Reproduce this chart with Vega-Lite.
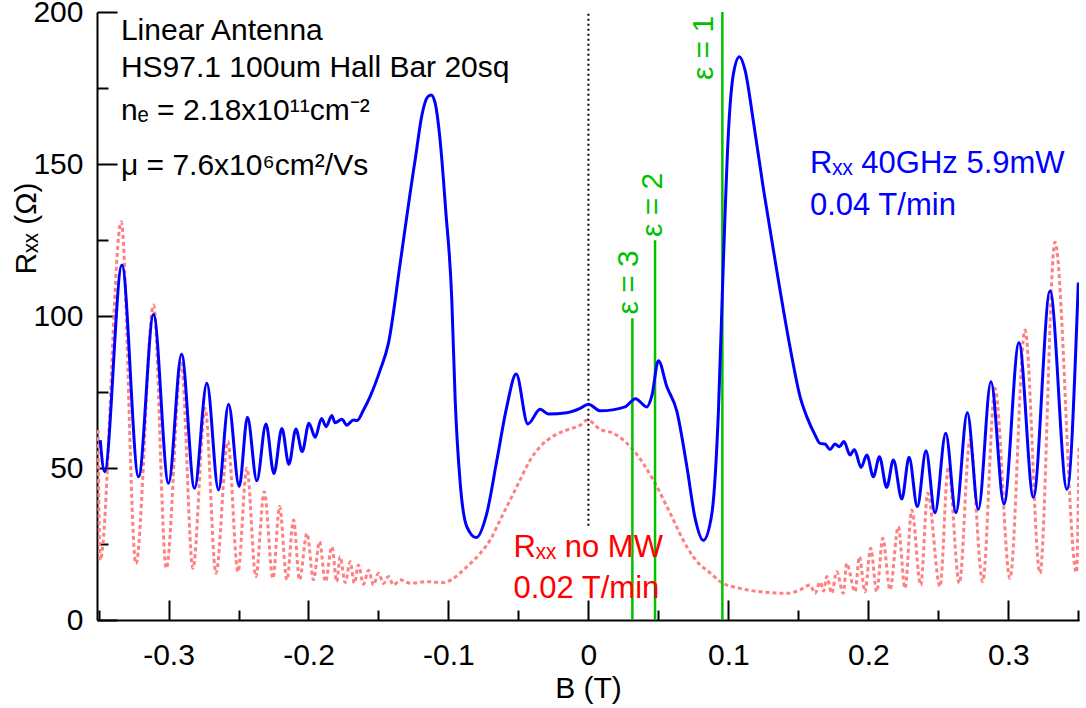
{
  "$schema": "https://vega.github.io/schema/vega-lite/v6.json",
  "width": 982,
  "height": 608,
  "autosize": {"type": "none"},
  "padding": {"left": 97, "top": 12, "right": 7, "bottom": 88},
  "background": "white",
  "config": {
    "view": {"stroke": null},
    "font": "Liberation Sans",
    "axis": {"labelFont": "Liberation Sans", "titleFont": "Liberation Sans", "grid": false, "domainColor": "black", "domainWidth": 2, "tickColor": "black", "tickWidth": 2, "labelColor": "black", "titleColor": "black", "titleFontWeight": "normal", "labelFontSize": 30, "titleFontSize": 30, "labelOverlap": false, "labelFlush": false}
  },
  "datasets": {
    "blue": [
      {"B": -0.3488, "R": 59.2}, {"B": -0.3457, "R": 48.8}, {"B": -0.3333, "R": 116.8}, {"B": -0.3214, "R": 47.1},
      {"B": -0.3107, "R": 100.5}, {"B": -0.3000, "R": 45.0}, {"B": -0.2907, "R": 87.4}, {"B": -0.2814, "R": 43.3},
      {"B": -0.2726, "R": 77.9}, {"B": -0.2643, "R": 42.8}, {"B": -0.2571, "R": 71.0}, {"B": -0.2495, "R": 43.9},
      {"B": -0.2436, "R": 66.7}, {"B": -0.2369, "R": 45.8}, {"B": -0.2304, "R": 64.5}, {"B": -0.2247, "R": 48.2},
      {"B": -0.2190, "R": 63.0}, {"B": -0.2140, "R": 51.2}, {"B": -0.2090, "R": 62.8}, {"B": -0.2045, "R": 55.4},
      {"B": -0.1997, "R": 64.7}, {"B": -0.1952, "R": 60.1}, {"B": -0.1907, "R": 66.3}, {"B": -0.1874, "R": 63.6},
      {"B": -0.1833, "R": 67.3}, {"B": -0.1810, "R": 64.9}, {"B": -0.1761, "R": 66.0}, {"B": -0.1726, "R": 64.1},
      {"B": -0.1679, "R": 65.8}, {"B": -0.1654, "R": 65.6}, {"B": -0.1607, "R": 69.1}, {"B": -0.1560, "R": 73.5},
      {"B": -0.1488, "R": 82.2}, {"B": -0.1429, "R": 91.0}, {"B": -0.1345, "R": 117.3}, {"B": -0.1274, "R": 140.4},
      {"B": -0.1236, "R": 152.0}, {"B": -0.1190, "R": 166.0}, {"B": -0.1150, "R": 172.0}, {"B": -0.1124, "R": 172.7},
      {"B": -0.1095, "R": 170.0}, {"B": -0.1060, "R": 158.0}, {"B": -0.1020, "R": 135.0}, {"B": -0.0976, "R": 105.3},
      {"B": -0.0952, "R": 72.4}, {"B": -0.0916, "R": 45.0}, {"B": -0.0869, "R": 30.7}, {"B": -0.0802, "R": 27.1},
      {"B": -0.0726, "R": 35.1}, {"B": -0.0654, "R": 52.6}, {"B": -0.0583, "R": 70.2}, {"B": -0.0516, "R": 80.9},
      {"B": -0.0433, "R": 64.5}, {"B": -0.0345, "R": 69.3}, {"B": -0.0286, "R": 67.8}, {"B": -0.0154, "R": 68.2},
      {"B": -0.0059, "R": 69.6}, {"B": 0.0, "R": 71.0}, {"B": 0.0084, "R": 68.8}, {"B": 0.0262, "R": 70.1},
      {"B": 0.0336, "R": 72.8}, {"B": 0.0417, "R": 70.1}, {"B": 0.0453, "R": 73.7}, {"B": 0.0500, "R": 85.3},
      {"B": 0.0560, "R": 76.8}, {"B": 0.0631, "R": 68.8}, {"B": 0.0703, "R": 50.6}, {"B": 0.0762, "R": 33.5},
      {"B": 0.0821, "R": 26.2}, {"B": 0.0881, "R": 34.7}, {"B": 0.0929, "R": 68.8}, {"B": 0.0964, "R": 117.6},
      {"B": 0.1000, "R": 160.2}, {"B": 0.1036, "R": 179.7}, {"B": 0.1079, "R": 185.3}, {"B": 0.1119, "R": 180.9},
      {"B": 0.1179, "R": 163.9}, {"B": 0.1250, "R": 141.9}, {"B": 0.1345, "R": 115.1}, {"B": 0.1441, "R": 89.6},
      {"B": 0.1512, "R": 73.5}, {"B": 0.1560, "R": 66.9}, {"B": 0.1619, "R": 60.9}, {"B": 0.1655, "R": 58.1},
      {"B": 0.1690, "R": 57.9}, {"B": 0.1726, "R": 56.1}, {"B": 0.1762, "R": 57.9}, {"B": 0.1793, "R": 57.0},
      {"B": 0.1826, "R": 58.7}, {"B": 0.1869, "R": 54.3}, {"B": 0.1900, "R": 56.1}, {"B": 0.1948, "R": 50.2},
      {"B": 0.1989, "R": 54.3}, {"B": 0.2036, "R": 47.1}, {"B": 0.2079, "R": 53.7}, {"B": 0.2131, "R": 43.6},
      {"B": 0.2179, "R": 52.6}, {"B": 0.2239, "R": 39.8}, {"B": 0.2291, "R": 53.5}, {"B": 0.2350, "R": 37.3},
      {"B": 0.2412, "R": 55.7}, {"B": 0.2476, "R": 35.3}, {"B": 0.2553, "R": 61.4}, {"B": 0.2626, "R": 35.3},
      {"B": 0.2707, "R": 68.2}, {"B": 0.2786, "R": 36.4}, {"B": 0.2876, "R": 78.4}, {"B": 0.2969, "R": 38.2},
      {"B": 0.3076, "R": 91.2}, {"B": 0.3179, "R": 40.4}, {"B": 0.3298, "R": 108.2}, {"B": 0.3419, "R": 43.0},
      {"B": 0.3500, "R": 111.0}
    ],
    "red": [
      {"B": -0.3504, "R": 62.5}, {"B": -0.3488, "R": 19.7}, {"B": -0.3338, "R": 131.0}, {"B": -0.3233, "R": 18.6},
      {"B": -0.3107, "R": 103.6}, {"B": -0.3016, "R": 17.0}, {"B": -0.2909, "R": 84.4}, {"B": -0.2826, "R": 17.0},
      {"B": -0.2738, "R": 69.6}, {"B": -0.2661, "R": 15.4}, {"B": -0.2576, "R": 58.7}, {"B": -0.2504, "R": 15.9},
      {"B": -0.2440, "R": 49.9}, {"B": -0.2376, "R": 14.3}, {"B": -0.2316, "R": 42.2}, {"B": -0.2254, "R": 13.7},
      {"B": -0.2207, "R": 37.3}, {"B": -0.2154, "R": 13.2}, {"B": -0.2107, "R": 32.9}, {"B": -0.2064, "R": 13.2},
      {"B": -0.2011, "R": 28.5}, {"B": -0.1964, "R": 13.2}, {"B": -0.1921, "R": 25.8}, {"B": -0.1879, "R": 12.6},
      {"B": -0.1833, "R": 24.1}, {"B": -0.1798, "R": 12.6}, {"B": -0.1774, "R": 20.8}, {"B": -0.1738, "R": 12.3},
      {"B": -0.1702, "R": 19.2}, {"B": -0.1672, "R": 12.1}, {"B": -0.1643, "R": 18.1}, {"B": -0.1607, "R": 11.8},
      {"B": -0.1571, "R": 16.4}, {"B": -0.1536, "R": 11.5}, {"B": -0.1500, "R": 15.4}, {"B": -0.1464, "R": 12.0},
      {"B": -0.1429, "R": 14.3}, {"B": -0.1393, "R": 11.5}, {"B": -0.1345, "R": 13.2}, {"B": -0.1274, "R": 12.1},
      {"B": -0.1150, "R": 12.6}, {"B": -0.1036, "R": 12.3}, {"B": -0.0964, "R": 13.7}, {"B": -0.0869, "R": 17.5},
      {"B": -0.0774, "R": 21.9}, {"B": -0.0702, "R": 26.3}, {"B": -0.0631, "R": 32.9}, {"B": -0.0559, "R": 39.5},
      {"B": -0.0488, "R": 46.1}, {"B": -0.0416, "R": 52.6}, {"B": -0.0345, "R": 57.0}, {"B": -0.0250, "R": 60.5},
      {"B": -0.0154, "R": 62.5}, {"B": -0.0059, "R": 64.1}, {"B": -0.0007, "R": 65.8}, {"B": 0.0084, "R": 62.7},
      {"B": 0.0179, "R": 61.4}, {"B": 0.0321, "R": 55.9}, {"B": 0.0476, "R": 45.0}, {"B": 0.0584, "R": 35.1},
      {"B": 0.0703, "R": 24.1}, {"B": 0.0798, "R": 18.1}, {"B": 0.0846, "R": 16.4}, {"B": 0.0953, "R": 12.3},
      {"B": 0.1084, "R": 10.4}, {"B": 0.1226, "R": 9.3}, {"B": 0.1417, "R": 8.8}, {"B": 0.1512, "R": 9.9},
      {"B": 0.1584, "R": 11.5}, {"B": 0.1619, "R": 8.8}, {"B": 0.1655, "R": 12.5}, {"B": 0.1680, "R": 9.5},
      {"B": 0.1703, "R": 14.3}, {"B": 0.1738, "R": 8.8}, {"B": 0.1774, "R": 15.9}, {"B": 0.1821, "R": 8.8},
      {"B": 0.1845, "R": 18.6}, {"B": 0.1905, "R": 9.3}, {"B": 0.1936, "R": 20.8}, {"B": 0.1976, "R": 9.3},
      {"B": 0.2017, "R": 23.6}, {"B": 0.2060, "R": 9.3}, {"B": 0.2103, "R": 26.9}, {"B": 0.2155, "R": 9.9},
      {"B": 0.2214, "R": 30.7}, {"B": 0.2262, "R": 10.4}, {"B": 0.2310, "R": 36.2}, {"B": 0.2374, "R": 11.5},
      {"B": 0.2424, "R": 41.7}, {"B": 0.2512, "R": 11.0}, {"B": 0.2571, "R": 50.4}, {"B": 0.2650, "R": 12.1},
      {"B": 0.2726, "R": 59.2}, {"B": 0.2817, "R": 12.6}, {"B": 0.2905, "R": 76.2}, {"B": 0.3012, "R": 13.7},
      {"B": 0.3119, "R": 95.4}, {"B": 0.3226, "R": 15.4}, {"B": 0.3333, "R": 124.3}, {"B": 0.3487, "R": 15.6},
      {"B": 0.3505, "R": 57.0}
    ],
    "green": [
      {"B": 0.0957, "top": 200},
      {"B": 0.0476, "top": 124.9},
      {"B": 0.0314, "top": 99.3}
    ],
    "greenText": [
      {"B": 0.0826, "R": 177.6, "label": "ε = 1"},
      {"B": 0.0460, "R": 126.0, "label": "ε = 2"},
      {"B": 0.0290, "R": 100.5, "label": "ε = 3"}
    ],
    "zeroLine": [{"B": 0, "y1": 31, "y2": 200}],
    "blackText": [
      {"B": -0.334, "R": 190.8, "label": "Linear Antenna"},
      {"B": -0.334, "R": 178.7, "label": "HS97.1 100um Hall Bar 20sq"},
      {"B": -0.334, "R": 164.5, "label": "nₑ = 2.18x10¹¹cm⁻²"},
      {"B": -0.334, "R": 146.4, "label": "μ = 7.6x10⁶cm²/Vs"}
    ],
    "blueText": [
      {"B": 0.1583, "R": 146.9, "label": "Rₓₓ 40GHz 5.9mW"},
      {"B": 0.1583, "R": 133.2, "label": "0.04 T/min"}
    ],
    "redText": [
      {"B": -0.0536, "R": 20.8, "label": "Rₓₓ no MW"},
      {"B": -0.0536, "R": 7.1, "label": "0.02 T/min"}
    ]
  },
  "layer": [
    {
      "data": {"name": "red"},
      "mark": {"type": "line", "interpolate": "monotone", "color": "#ff8080", "strokeWidth": 3, "strokeDash": [4, 3], "clip": true},
      "encoding": {
        "x": {
          "field": "B", "type": "quantitative",
          "scale": {"domain": [-0.3511, 0.3505], "nice": false, "zero": false},
          "axis": {
            "title": "B (T)",
            "values": [-0.35, -0.3, -0.25, -0.2, -0.15, -0.1, -0.05, 0, 0.05, 0.1, 0.15, 0.2, 0.25, 0.3, 0.35],
            "labelExpr": "abs(datum.value*10 - round(datum.value*10)) < 0.001 ? (datum.value < -0.001 ? '-' : '') + format(abs(datum.value), '~g') : ''",
            "tickSize": {"condition": {"test": "abs(datum.value*10 - round(datum.value*10)) < 0.001", "value": -20}, "value": -10},
            "labelPadding": 40,
            "titlePadding": -7
          }
        },
        "y": {
          "field": "R", "type": "quantitative",
          "scale": {"domain": [0, 200], "nice": false},
          "axis": {
            "title": "Rₓₓ (Ω)",
            "values": [0, 25, 50, 75, 100, 125, 150, 175, 200],
            "labelExpr": "datum.value % 50 === 0 ? datum.label : ''",
            "tickSize": {"condition": {"test": "datum.value % 50 === 0", "value": -20}, "value": -11},
            "labelPadding": 34,
            "titleAngle": 270,
            "titleX": -62,
            "titleY": 216,
            "titleAlign": "center",
            "titleBaseline": "alphabetic"
          }
        }
      }
    },
    {
      "data": {"name": "zeroLine"},
      "mark": {"type": "rule", "color": "black", "strokeWidth": 2, "strokeDash": [2, 3]},
      "encoding": {
        "x": {"field": "B", "type": "quantitative"},
        "y": {"field": "y1", "type": "quantitative"},
        "y2": {"field": "y2"}
      }
    },
    {
      "data": {"name": "green"},
      "mark": {"type": "rule", "color": "#00c000", "strokeWidth": 2.5},
      "encoding": {
        "x": {"field": "B", "type": "quantitative"},
        "y": {"field": "top", "type": "quantitative"},
        "y2": {"datum": 0}
      }
    },
    {
      "data": {"name": "blue"},
      "mark": {"type": "line", "interpolate": "monotone", "color": "#0000ff", "strokeWidth": 3, "clip": true},
      "encoding": {
        "x": {"field": "B", "type": "quantitative"},
        "y": {"field": "R", "type": "quantitative"}
      }
    },
    {
      "data": {"name": "greenText"},
      "mark": {"type": "text", "angle": 270, "align": "left", "baseline": "middle", "fontSize": 30, "color": "#00c000", "font": "Liberation Sans"},
      "encoding": {
        "x": {"field": "B", "type": "quantitative"},
        "y": {"field": "R", "type": "quantitative"},
        "text": {"field": "label"}
      }
    },
    {
      "data": {"name": "blackText"},
      "mark": {"type": "text", "align": "left", "baseline": "alphabetic", "fontSize": 30, "color": "black", "font": "Liberation Sans"},
      "encoding": {
        "x": {"field": "B", "type": "quantitative"},
        "y": {"field": "R", "type": "quantitative"},
        "text": {"field": "label"}
      }
    },
    {
      "data": {"name": "blueText"},
      "mark": {"type": "text", "align": "left", "baseline": "alphabetic", "fontSize": 31, "color": "#0000ff", "font": "Liberation Sans"},
      "encoding": {
        "x": {"field": "B", "type": "quantitative"},
        "y": {"field": "R", "type": "quantitative"},
        "text": {"field": "label"}
      }
    },
    {
      "data": {"name": "redText"},
      "mark": {"type": "text", "align": "left", "baseline": "alphabetic", "fontSize": 31, "color": "#ff0000", "font": "Liberation Sans"},
      "encoding": {
        "x": {"field": "B", "type": "quantitative"},
        "y": {"field": "R", "type": "quantitative"},
        "text": {"field": "label"}
      }
    }
  ]
}
